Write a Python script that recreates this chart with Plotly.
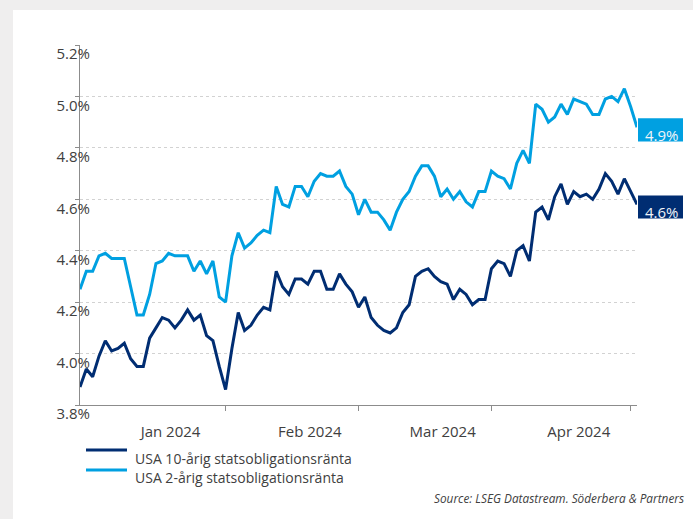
import plotly.graph_objects as go
import pandas as pd

# ---- data -----------------------------------------------------------
# weekday categories (Datastream style, holidays carry previous value)
dates = pd.bdate_range("2024-01-01", "2024-05-02").strftime("%Y-%m-%d").tolist()

y10 = [3.87, 3.94, 3.91, 3.99, 4.05, 4.01, 4.02, 4.04, 3.98, 3.95,
       3.95, 4.06, 4.10, 4.14, 4.13, 4.10, 4.13, 4.17, 4.13, 4.15,
       4.07, 4.05, 3.95, 3.86, 4.02, 4.16, 4.09, 4.11, 4.15, 4.18,
       4.17, 4.32, 4.26, 4.23, 4.29, 4.29, 4.27, 4.32, 4.32, 4.25,
       4.25, 4.31, 4.27, 4.24, 4.18, 4.22, 4.14, 4.11, 4.09, 4.08,
       4.10, 4.16, 4.19, 4.30, 4.32, 4.33, 4.30, 4.28, 4.27, 4.21,
       4.25, 4.23, 4.19, 4.21, 4.21, 4.33, 4.36, 4.35, 4.30, 4.40,
       4.42, 4.36, 4.55, 4.57, 4.52, 4.61, 4.66, 4.58, 4.63, 4.61,
       4.62, 4.60, 4.64, 4.70, 4.67, 4.62, 4.68, 4.63, 4.58]

y2 = [4.25, 4.32, 4.32, 4.38, 4.39, 4.37, 4.37, 4.37, 4.26, 4.15,
      4.15, 4.23, 4.35, 4.36, 4.39, 4.38, 4.38, 4.38, 4.32, 4.36,
      4.31, 4.36, 4.22, 4.20, 4.38, 4.47, 4.41, 4.43, 4.46, 4.48,
      4.47, 4.65, 4.58, 4.57, 4.65, 4.65, 4.61, 4.67, 4.70, 4.69,
      4.69, 4.71, 4.65, 4.62, 4.54, 4.60, 4.55, 4.55, 4.52, 4.48,
      4.55, 4.60, 4.63, 4.69, 4.73, 4.73, 4.69, 4.61, 4.64, 4.60,
      4.63, 4.59, 4.57, 4.63, 4.63, 4.71, 4.69, 4.68, 4.64, 4.74,
      4.79, 4.74, 4.97, 4.95, 4.90, 4.92, 4.97, 4.93, 4.99, 4.98,
      4.97, 4.93, 4.93, 4.99, 5.00, 4.98, 5.03, 4.96, 4.88]

series_names = ["USA 10-årig statsobligationsränta", "USA 2-årig statsobligationsränta"]
month_labels = ["Jan 2024", "Feb 2024", "Mar 2024", "Apr 2024"]
y_ticks = [3.8, 4.0, 4.2, 4.4, 4.6, 4.8, 5.0, 5.2]
y_ticktext = [f"{v:.1f}%" for v in y_ticks]
source_text = "Source: LSEG Datastream. Söderbera & Partners"

# ---- styles ---------------------------------------------------------
DARK = "#002d72"
LIGHT = "#00a0e1"
AXIS = "#8c8c8c"
TEXT = "#404040"
FONT = "Open Sans"

idx = list(range(len(dates)))
first_of_month = [i for i, d in enumerate(dates) if d.endswith("-01")]
month_starts = [i for i in first_of_month if i > 0]
bounds = first_of_month + [len(dates) - 1]
label_pos = [(bounds[k] + bounds[k + 1]) / 2 + 2.8 for k in range(len(month_labels))]

series = [(series_names[0], y10, DARK), (series_names[1], y2, LIGHT)]

fig = go.Figure()
for name, ys, col in series:
    fig.add_trace(go.Scatter(
        x=idx, y=ys, name=name, mode="lines",
        line=dict(color=col, width=3),
        customdata=dates, showlegend=False,
        hovertemplate="%{customdata}: %{y:.2f}%<extra>" + name + "</extra>",
    ))

W, H = 693, 519
L, R, T, B = 80, 56, 45, 114
pw = W - L - R
ph = H - T - B

def px_x(px):
    return (px - L) / pw

def px_y(py):
    return (H - B - py) / ph

shapes = [
    # grey frame (top and left)
    dict(type="rect", xref="paper", yref="paper", x0=px_x(-5), x1=px_x(W + 5),
         y0=px_y(10), y1=px_y(-5), fillcolor="#efeeee", line=dict(width=0)),
    dict(type="rect", xref="paper", yref="paper", x0=px_x(-5), x1=px_x(13),
         y0=px_y(H + 5), y1=px_y(-5), fillcolor="#efeeee", line=dict(width=0)),
]
annotations = []

# end-value boxes
for ys, col in [(y2, LIGHT), (y10, DARK)]:
    last = ys[-1]
    shapes.append(dict(type="rect", xref="paper", yref="y",
                       x0=px_x(638), x1=px_x(683), y0=last - 0.055, y1=last + 0.035,
                       fillcolor=col, line=dict(width=0)))
    annotations.append(dict(xref="paper", yref="y", x=px_x(681), y=last - 0.03,
                            xanchor="right", yanchor="middle", showarrow=False,
                            text=f"{last:.1f}%", font=dict(color="#f2f4f8", size=15, family=FONT)))

# legend (line sits above its label, as in the original)
for k, (name, ys, col) in enumerate(series):
    line_y = 450 + 20 * k
    text_y = 458 + 19 * k
    shapes.append(dict(type="line", xref="paper", yref="paper",
                       x0=px_x(86), x1=px_x(127), y0=px_y(line_y), y1=px_y(line_y),
                       line=dict(color=col, width=3)))
    annotations.append(dict(xref="paper", yref="paper", x=px_x(133), y=px_y(text_y),
                            xanchor="left", yanchor="middle", showarrow=False,
                            text=name, font=dict(size=14, color=TEXT, family=FONT)))

annotations.append(dict(xref="paper", yref="paper", x=px_x(686), y=px_y(498),
                        xanchor="right", yanchor="middle", showarrow=False,
                        text=source_text,
                        font=dict(size=11.8, color=TEXT, family=FONT, style="italic")))

fig.update_layout(
    width=W, height=H,
    margin=dict(l=L, r=R, t=T, b=B, autoexpand=False),
    paper_bgcolor="white", plot_bgcolor="white",
    font=dict(family=FONT, color=TEXT, size=14),
    showlegend=False,
    shapes=shapes,
    annotations=annotations,
    xaxis=dict(range=[0, len(dates) - 1], showgrid=False, zeroline=False,
               showline=True, linecolor=AXIS, linewidth=1, automargin=False,
               tickmode="array", tickvals=label_pos, ticktext=month_labels,
               ticks="", tickfont=dict(size=15, color=TEXT), ticklabelstandoff=13,
               minor=dict(tickmode="array", tickvals=month_starts, ticks="outside",
                          ticklen=5, tickcolor=AXIS, tickwidth=1, showgrid=False)),
    yaxis=dict(range=[3.8, 5.2], tickmode="array", tickvals=y_ticks, ticktext=y_ticktext,
               showgrid=True, gridcolor="#d2d2d2", griddash="dot", gridwidth=1,
               zeroline=False, showline=True, linecolor=AXIS, linewidth=1, automargin=False,
               ticks="outside", ticklen=4, tickcolor=AXIS,
               tickfont=dict(size=15, color=TEXT),
               ticklabelshift=9, ticklabelstandoff=-18),
    hovermode="x unified",
)

# remove the default 8px page margin so the figure sits at the window origin
fig.write_html("out.html", config={"displayModeBar": False},
               post_script="document.body.style.margin='0';")
